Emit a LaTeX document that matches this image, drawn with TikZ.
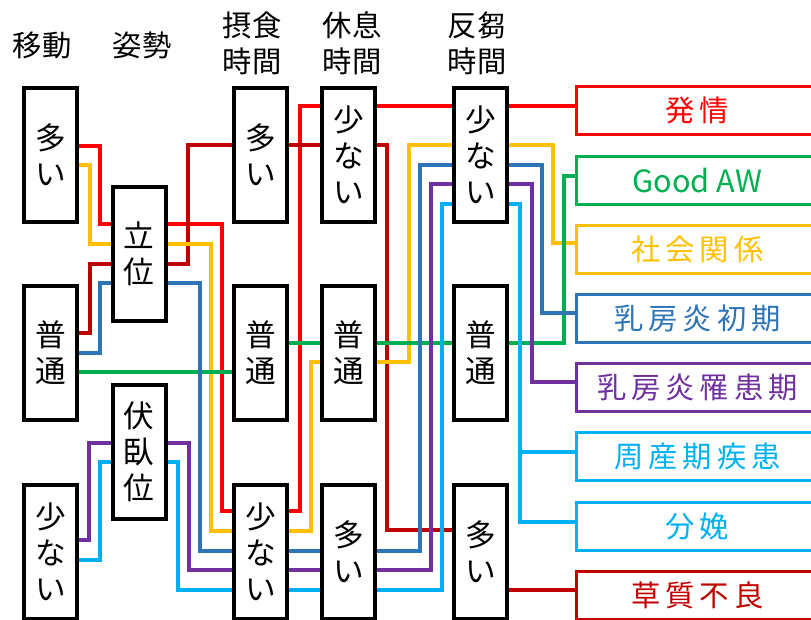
\documentclass[tikz,border=0pt]{standalone}
\usepackage{fontspec}
\setmainfont{Noto Sans CJK JP}
\newfontfamily\outfont[LetterSpace=17]{Noto Sans CJK JP}
\definecolor{cRed}{HTML}{FF0000}
\definecolor{cDkRed}{HTML}{C00000}
\definecolor{cGold}{HTML}{FFC000}
\definecolor{cGreen}{HTML}{00B050}
\definecolor{cBlue}{HTML}{2E75B6}
\definecolor{cPurple}{HTML}{7030A0}
\definecolor{cCyan}{HTML}{00B0F0}
\tikzset{
  colbox/.style={draw, line width=3pt, fill=white, minimum width=39.75pt,
    minimum height=100.5pt, inner sep=0pt, align=center,
    font=\fontsize{23}{27}\selectfont},
  outbox/.style={draw=#1, text=#1, line width=2.25pt, minimum width=181.5pt,
    minimum height=36pt, inner sep=0pt, font=\outfont\fontsize{22}{26}\selectfont},
  head/.style={align=center, font=\fontsize{22}{27}\selectfont},
  wire/.style={line width=2.6pt, draw=#1},
}
\begin{document}
\begin{tikzpicture}[x=0.75pt, y=-0.75pt]
    \useasboundingbox (0,0) rectangle (811,619);
    \clip (0,0) rectangle (811,619);
    % headers
    \node[head] (hMove) at (42,45) {移動};
    \node[head] (hPost) at (142,45) {姿勢};
    \node[head] (hEat) at (252,43) {摂食\\時間};
    \node[head] (hRest) at (352,43) {休息\\時間};
    \node[head] (hRum) at (477,43) {反芻\\時間};
    % columns
    \node[colbox] (mvHi) at (50.5,155) {多\\い};
    \node[colbox] (mvMid) at (50.5,353) {普\\通};
    \node[colbox] (mvLo) at (50.5,552) {少\\な\\い};
    \node[colbox] (psStand) at (139,254) {立\\位};
    \node[colbox] (psLie) at (139,452) {伏\\臥\\位};
    \node[colbox] (eatHi) at (260.5,155) {多\\い};
    \node[colbox] (eatMid) at (260.5,353) {普\\通};
    \node[colbox] (eatLo) at (260.5,552) {少\\な\\い};
    \node[colbox] (restLo) at (348.5,155) {少\\な\\い};
    \node[colbox] (restMid) at (348.5,353) {普\\通};
    \node[colbox] (restHi) at (348.5,552) {多\\い};
    \node[colbox] (rumLo) at (480.5,155) {少\\な\\い};
    \node[colbox] (rumMid) at (480.5,353) {普\\通};
    \node[colbox] (rumHi) at (480.5,552) {多\\い};
    % outcomes
    \node[outbox=cRed] (oEstrus) at (697.5,110.5) {発情};
    \node[outbox=cGreen, font=\fontsize{23}{26}\selectfont] (oGood) at (697.5,180) {Good AW};
    \node[outbox=cGold] (oSocial) at (697.5,249) {社会関係};
    \node[outbox=cBlue] (oMastEarly) at (697.5,318.5) {乳房炎初期};
    \node[outbox=cPurple] (oMast) at (697.5,387.5) {乳房炎罹患期};
    \node[outbox=cCyan] (oPeri) at (697.5,456.5) {周産期疾患};
    \node[outbox=cCyan] (oCalv) at (697.5,526.5) {分娩};
    \node[outbox=cDkRed] (oFeed) at (697.5,595) {草質不良};
    % red
    \draw[wire=cRed] (mvHi.east |- 0,146) -| (100,224) -- (psStand.west |- 0,224);
    \draw[wire=cRed] (psStand.east |- 0,224) -| (222,511) -- (eatLo.west |- 0,511);
    \draw[wire=cRed] (eatLo.east |- 0,511) -| (300,106) -- (restLo.west |- 0,106);
    \draw[wire=cRed] (restLo.east |- 0,106) -- (rumLo.west |- 0,106);
    \draw[wire=cRed] (rumLo.east |- 0,106) -- (oEstrus.west |- 0,106);
    % dark red
    \draw[wire=cDkRed] (mvMid.east |- 0,333) -| (90,264) -- (psStand.west |- 0,264);
    \draw[wire=cDkRed] (psStand.east |- 0,264) -| (188,145) -- (eatHi.west |- 0,145);
    \draw[wire=cDkRed] (eatHi.east |- 0,145) -- (restLo.west |- 0,145);
    \draw[wire=cDkRed] (restLo.east |- 0,145) -| (387,530) -- (rumHi.west |- 0,530);
    \draw[wire=cDkRed] (rumHi.east |- 0,590) -- (oFeed.west |- 0,590);
    % gold
    \draw[wire=cGold] (mvHi.east |- 0,165) -| (90,244) -- (psStand.west |- 0,244);
    \draw[wire=cGold] (psStand.east |- 0,244) -| (211,531) -- (eatLo.west |- 0,531);
    \draw[wire=cGold] (eatLo.east |- 0,531) -| (311,362) -- (restMid.west |- 0,362);
    \draw[wire=cGold] (restMid.east |- 0,362) -| (409,145) -- (rumLo.west |- 0,145);
    \draw[wire=cGold] (rumLo.east |- 0,145) -| (553,243) -- (oSocial.west |- 0,243);
    % green
    \draw[wire=cGreen] (mvMid.east |- 0,372) -- (eatMid.west |- 0,372);
    \draw[wire=cGreen] (eatMid.east |- 0,343) -- (restMid.west |- 0,343);
    \draw[wire=cGreen] (restMid.east |- 0,343) -- (rumMid.west |- 0,343);
    \draw[wire=cGreen] (rumMid.east |- 0,343) -| (564,176) -- (oGood.west |- 0,176);
    % blue
    \draw[wire=cBlue] (mvMid.east |- 0,353) -| (100,283) -- (psStand.west |- 0,283);
    \draw[wire=cBlue] (psStand.east |- 0,283) -| (200,551) -- (eatLo.west |- 0,551);
    \draw[wire=cBlue] (eatLo.east |- 0,551) -- (restHi.west |- 0,551);
    \draw[wire=cBlue] (restHi.east |- 0,551) -| (420,165) -- (rumLo.west |- 0,165);
    \draw[wire=cBlue] (rumLo.east |- 0,165) -| (542,313) -- (oMastEarly.west |- 0,313);
    % purple
    \draw[wire=cPurple] (mvLo.east |- 0,540) -| (89,443) -- (psLie.west |- 0,443);
    \draw[wire=cPurple] (psLie.east |- 0,443) -| (189,570) -- (eatLo.west |- 0,570);
    \draw[wire=cPurple] (eatLo.east |- 0,570) -- (restHi.west |- 0,570);
    \draw[wire=cPurple] (restHi.east |- 0,570) -| (431,184) -- (rumLo.west |- 0,184);
    \draw[wire=cPurple] (rumLo.east |- 0,184) -| (532,382) -- (oMast.west |- 0,382);
    % cyan
    \draw[wire=cCyan] (mvLo.east |- 0,560) -| (100,462) -- (psLie.west |- 0,462);
    \draw[wire=cCyan] (psLie.east |- 0,462) -| (178,590) -- (eatLo.west |- 0,590);
    \draw[wire=cCyan] (eatLo.east |- 0,590) -- (restHi.west |- 0,590);
    \draw[wire=cCyan] (restHi.east |- 0,590) -| (442,204) -- (rumLo.west |- 0,204);
    \draw[wire=cCyan] (rumLo.east |- 0,204) -| (520,522) -- (oCalv.west |- 0,522);
    \coordinate (cyBr) at (520,452);
    \draw[wire=cCyan] (cyBr) -- (oPeri.west |- cyBr);
\end{tikzpicture}
\end{document}
